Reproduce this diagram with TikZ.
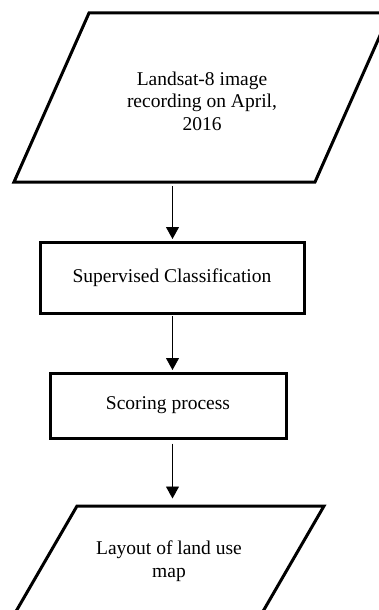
\documentclass[tikz,border=0pt]{standalone}
\usepackage{fontspec}
\setmainfont{Liberation Serif}
\usetikzlibrary{arrows.meta}
\begin{document}
\begin{tikzpicture}[x=1pt,y=-1pt,
  shapeline/.style={line width=3pt, line join=miter},
  procbox/.style={draw, shapeline, rectangle, inner sep=0pt},
  txt/.style={align=center, font=\fontsize{19.5}{22.5}\selectfont},
  arr/.style={-{Triangle[length=12pt,width=13pt]}, line width=0.9pt, shorten >=1.5pt}]
\useasboundingbox (0,0) rectangle (379,610);
\clip (0,0) rectangle (379,610);
% top input parallelogram
\draw[shapeline] (89,13) -- (390,13) -- (315,182) -- (14,182) -- cycle;
\node[txt] (in1) at (202,101) {Landsat-8 image\\recording on April,\\2016};
\coordinate (in1s) at (172.5,186);
% process boxes
\node[procbox, txt, minimum width=264pt, minimum height=71pt] (b1) at (172,277.5) {Supervised Classification};
\node[procbox, txt, minimum width=236pt, minimum height=65pt] (b2) at (168,405.5) {Scoring process};
% bottom output parallelogram
\draw[shapeline] (77,506) -- (324,506) -- (258,620) -- (11,620) -- cycle;
\node[txt] (out1) at (169,561) {Layout of land use\\map};
\coordinate (out1n) at (172.5,506);
% connectors
\draw[arr] (in1s) -- (in1s |- b1.north);
\draw[arr] ([yshift=-1.5pt]in1s |- b1.south) -- (in1s |- b2.north);
\draw[arr] ([yshift=-4pt]in1s |- b2.south) -- ([yshift=6pt]out1n);
\end{tikzpicture}
\end{document}
